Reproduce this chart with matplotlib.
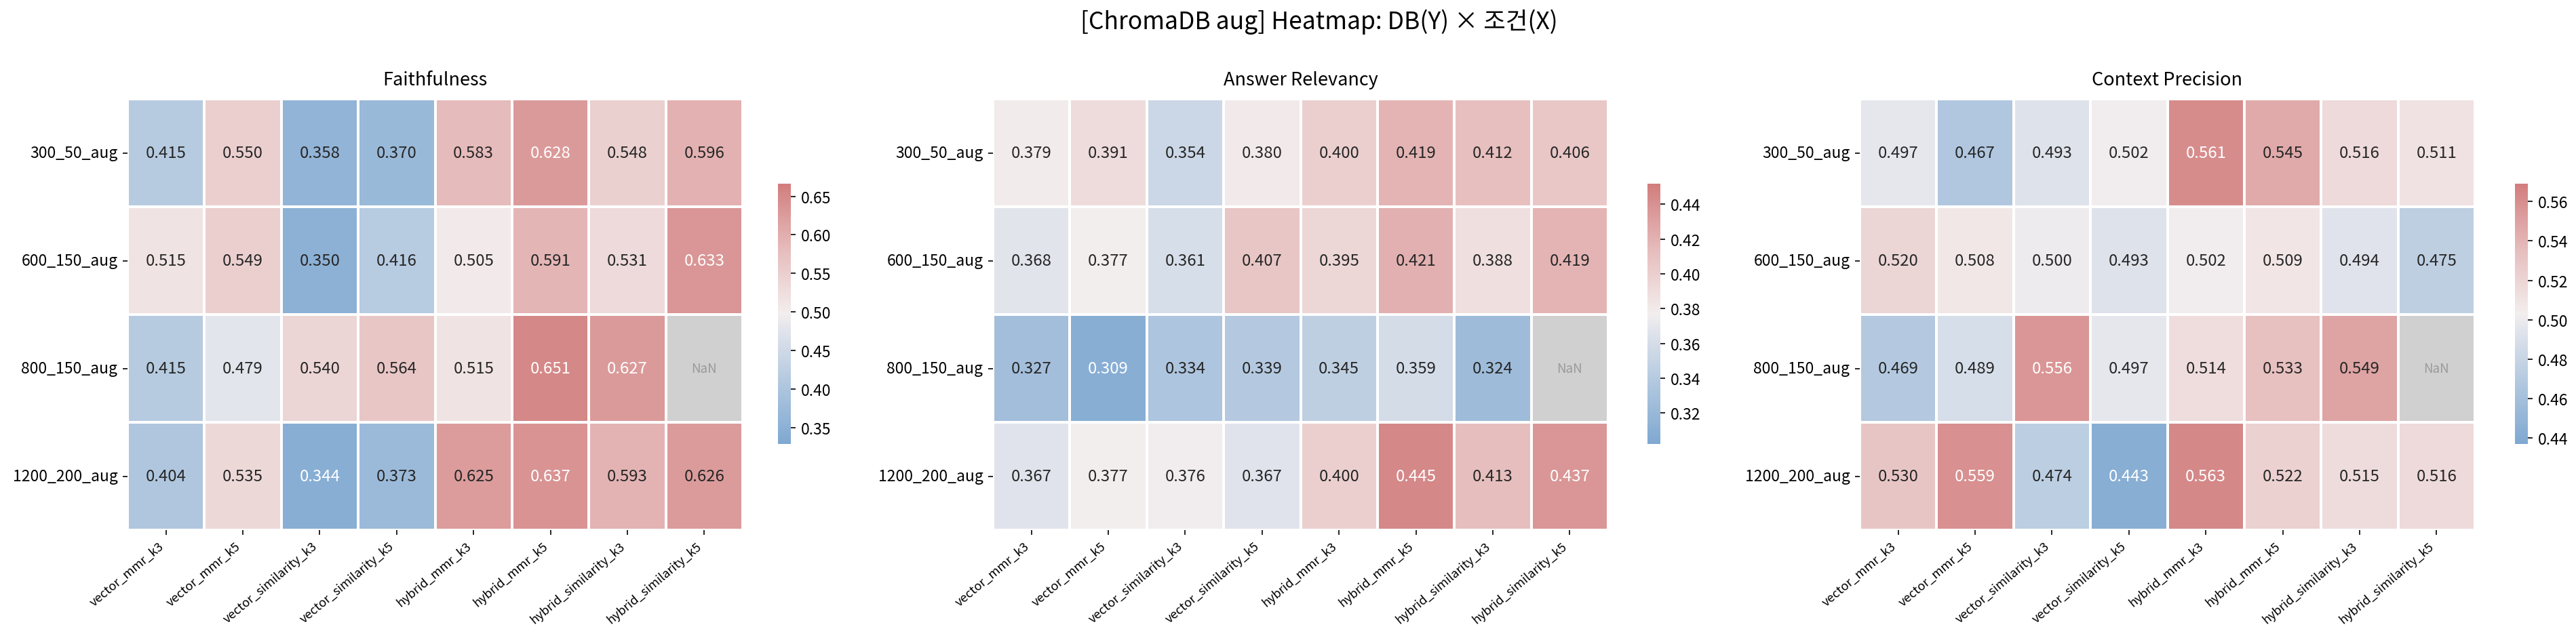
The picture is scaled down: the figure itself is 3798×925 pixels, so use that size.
"""
ChromaDB aug heatmaps: DB (rows) x retrieval condition (cols) for three RAGAS metrics
"""

import numpy as np
import matplotlib
matplotlib.use('Agg')
import matplotlib.pyplot as plt
import seaborn as sns
from matplotlib.colors import LinearSegmentedColormap

DBS = ['300_50_aug', '600_150_aug', '800_150_aug', '1200_200_aug']
CONDITIONS = ['vector_mmr_k3', 'vector_mmr_k5', 'vector_similarity_k3', 'vector_similarity_k5',
              'hybrid_mmr_k3', 'hybrid_mmr_k5', 'hybrid_similarity_k3', 'hybrid_similarity_k5']

nan = np.nan

faithfulness = [
    [0.415, 0.550, 0.358, 0.370, 0.583, 0.628, 0.548, 0.596],
    [0.515, 0.549, 0.350, 0.416, 0.505, 0.591, 0.531, 0.633],
    [0.415, 0.479, 0.540, 0.564, 0.515, 0.651, 0.627, nan],
    [0.404, 0.535, 0.344, 0.373, 0.625, 0.637, 0.593, 0.626],
]

answer_relevancy = [
    [0.379, 0.391, 0.354, 0.380, 0.400, 0.419, 0.412, 0.406],
    [0.368, 0.377, 0.361, 0.407, 0.395, 0.421, 0.388, 0.419],
    [0.327, 0.309, 0.334, 0.339, 0.345, 0.359, 0.324, nan],
    [0.367, 0.377, 0.376, 0.367, 0.400, 0.445, 0.413, 0.437],
]

context_precision = [
    [0.497, 0.467, 0.493, 0.502, 0.561, 0.545, 0.516, 0.511],
    [0.520, 0.508, 0.500, 0.493, 0.502, 0.509, 0.494, 0.475],
    [0.469, 0.489, 0.556, 0.497, 0.514, 0.533, 0.549, nan],
    [0.530, 0.559, 0.474, 0.443, 0.563, 0.522, 0.515, 0.516],
]

METRICS = [('Faithfulness', faithfulness),
           ('Answer Relevancy', answer_relevancy),
           ('Context Precision', context_precision)]

plt.rcParams['font.family'] = ['Noto Sans CJK KR', 'DejaVu Sans']

cmap = LinearSegmentedColormap.from_list('bluered', [
    (0.00, '#7fa8d1'),
    (0.25, '#b5cae0'),
    (0.45, '#e4e6ec'),
    (0.50, '#f3eeee'),
    (0.75, '#e6bcbc'),
    (1.00, '#d27d7d'),
])

W, H = 3798, 926
fig = plt.figure(figsize=(W / 150, H / 150), dpi=150)

ax_lefts = [188, 1464, 2742]
cbar_lefts = [1147, 2429, 3708]

for (name, values), ax_left, cb_left in zip(METRICS, ax_lefts, cbar_lefts):
    data = np.array(values, dtype=float)
    ax = fig.add_axes([ax_left / W, (H - 783) / H, 907 / W, 636 / H])
    cax = fig.add_axes([cb_left / W, (H - 656) / H, 19 / W, 384 / H])

    lo, hi = np.nanmin(data), np.nanmax(data)
    pad = (hi - lo) * 0.05
    ax.set_facecolor('#d0d0d0')
    sns.heatmap(data, ax=ax, cbar_ax=cax, cmap=cmap, vmin=lo - pad, vmax=hi + pad,
                annot=True, fmt='.3f', annot_kws={'size': 11.5},
                linewidths=1.0, linecolor='white',
                xticklabels=CONDITIONS, yticklabels=DBS)

    # seaborn skips annotations for missing cells
    for i, j in zip(*np.where(np.isnan(data))):
        ax.text(j + 0.5, i + 0.5, 'NaN', ha='center', va='center', fontsize=9, color='#999999')

    ax.set_title(name, fontsize=13, pad=10)
    ax.set_xticklabels(CONDITIONS, rotation=40, ha='right', fontsize=8.8)
    ax.set_yticklabels(DBS, rotation=0, fontsize=11)
    cax.tick_params(labelsize=11)
    for s in cax.spines.values():
        s.set_visible(False)

fig.suptitle('[ChromaDB aug] Heatmap: DB(Y) × 조건(X)', fontsize=17, x=0.512, y=0.985)

fig.savefig('out.png', dpi=150)
